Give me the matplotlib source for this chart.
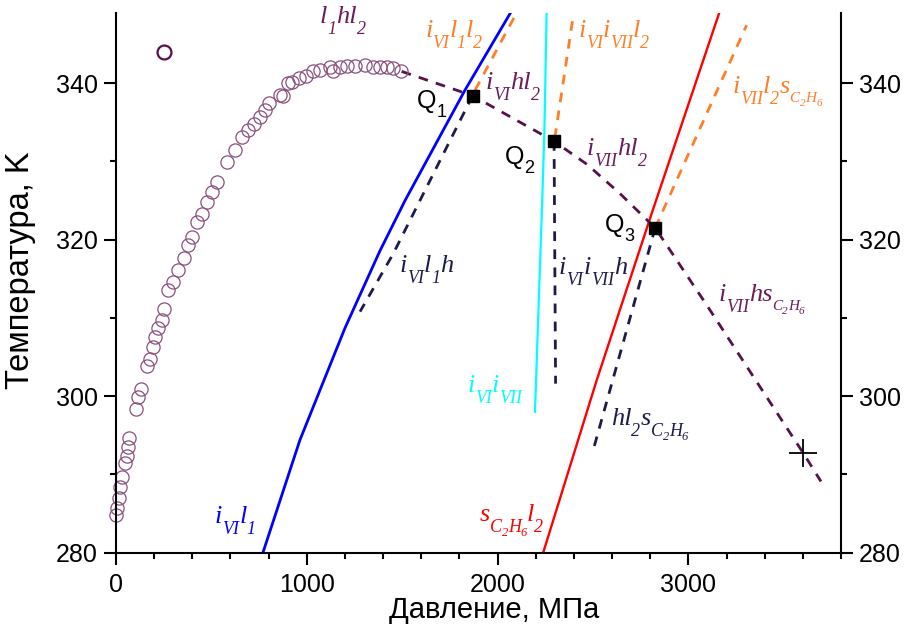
import matplotlib
matplotlib.use('Agg')
import matplotlib.pyplot as plt
from matplotlib.ticker import MultipleLocator
from matplotlib.transforms import IdentityTransform

plt.rcParams['font.family'] = ['Liberation Sans', 'DejaVu Sans']

# ---------------- data (pressure in MPa, temperature in K) ----------------
exp_P = [0, 5, 16, 21, 30, 47, 56, 64, 70, 105, 113, 129, 161, 178, 192, 204, 222,
         239, 253, 274, 300, 327, 356, 379, 397, 426, 449, 475, 501, 531, 580, 624,
         659, 694, 723, 755, 781, 802, 860, 873, 903, 921, 961, 996, 1034, 1069,
         1122, 1139, 1174, 1209, 1253, 1305, 1349, 1384, 1419, 1453, 1494]
exp_T = [284.8, 285.7, 287.0, 288.4, 289.7, 291.4, 292.3, 293.5, 294.7, 298.3, 299.9,
         300.9, 303.8, 304.7, 306.3, 307.6, 308.7, 309.7, 311.2, 313.6, 314.6, 316.1,
         317.7, 319.3, 320.4, 322.3, 323.3, 324.8, 326.1, 327.4, 329.9, 331.4, 333.1,
         334.0, 334.8, 335.7, 336.6, 337.4, 338.5, 338.4, 340.0, 340.2, 340.6, 340.9,
         341.6, 341.7, 342.1, 341.6, 342.1, 342.2, 342.2, 342.3, 342.1, 342.1, 342.1,
         341.9, 341.5]
single_P = [253]
single_T = [344.0]

# solid lines
iVI_l1_P = [770, 964, 1200, 1384, 1515, 1829, 2068]
iVI_l1_T = [280, 294.4, 308.7, 318.6, 325, 339.1, 349]
sC2H6_l2_P = [2239, 2519, 2807, 3162]
sC2H6_l2_T = [280, 302, 323.3, 349]
iVI_iVII_P = [2196, 2234, 2245, 2257]
iVI_iVII_T = [298.0, 325.0, 333.5, 349]

# dashed three-phase lines
hl2_P = [1497, 1869, 2294, 2470, 2641, 2826, 3100, 3410, 3603, 3695]
hl2_T = [341.5, 338.4, 332.6, 329.6, 325.9, 321.5, 311.5, 299.9, 292.7, 289.1]
iVI_l1_h_P = [1869, 1453, 1279]
iVI_l1_h_T = [338.4, 318.2, 310.8]
iVI_iVII_h_P = [2296, 2304]
iVI_iVII_h_T = [332.6, 301.6]
hl2_s_P = [2826, 2501]
hl2_s_T = [321.5, 293.1]
iVI_l1_l2_P = [1882, 2100]
iVI_l1_l2_T = [339.1, 349]
iVI_iVII_l2_P = [2300, 2397]
iVI_iVII_l2_T = [333.0, 348.7]
iVII_l2_s_P = [2826, 3305]
iVII_l2_s_T = [321.5, 347.4]

# quadruple points Q1..Q3 and end point
Q_P = [1869, 2294, 2826]
Q_T = [338.4, 332.6, 321.5]
Q_names = ['1', '2', '3']
end_P = [3603]
end_T = [292.7]

x_ticks = [0, 1000, 2000, 3000]
y_ticks = [280, 300, 320, 340]

# ---------------- colours ----------------
c_purple = '#58104a'
c_purple_txt = '#6a1c5b'
c_circ = '#8a4f7e'
c_orange = '#ff7f27'
c_navy = '#1c1c4c'
c_blue = '#0000ff'
c_red = '#ff0000'
c_cyan = '#00ffff'

fig = plt.figure(figsize=(9.06, 6.3), dpi=100)
ax = fig.add_axes([116 / 906, 1 - 552.7 / 630, 725 / 906, 540 / 630])
ax.set_xlim(0, 3800)
ax.set_ylim(280, 349)

ax.plot(iVI_l1_P, iVI_l1_T, color=c_blue, lw=2.0)
ax.plot(sC2H6_l2_P, sC2H6_l2_T, color=c_red, lw=1.7)
ax.plot(iVI_iVII_P, iVI_iVII_T, color=c_cyan, lw=1.6)

dash = (3.5, 3.0)
ax.plot(iVI_l1_h_P, iVI_l1_h_T, color=c_navy, lw=2.0, dashes=dash)
ax.plot(iVI_iVII_h_P, iVI_iVII_h_T, color=c_navy, lw=2.0, dashes=dash)
ax.plot(hl2_s_P, hl2_s_T, color=c_navy, lw=2.0, dashes=dash)
ax.plot(iVI_l1_l2_P, iVI_l1_l2_T, color=c_orange, lw=2.0, dashes=dash)
ax.plot(iVI_iVII_l2_P, iVI_iVII_l2_T, color=c_orange, lw=2.0, dashes=dash)
ax.plot(iVII_l2_s_P, iVII_l2_s_T, color=c_orange, lw=2.0, dashes=dash)
ax.plot(hl2_P, hl2_T, color=c_purple, lw=2.0, dashes=dash)

ax.plot(exp_P, exp_T, linestyle='none', marker='o', ms=9.5, mfc='none',
        mec=c_circ, mew=0.9, clip_on=False)
ax.plot(single_P, single_T, linestyle='none', marker='o', ms=10, mfc='none',
        mec=c_purple, mew=1.6)
ax.plot(Q_P, Q_T, linestyle='none', marker='s', ms=9, color='black', zorder=5)
ax.plot(end_P, end_T, linestyle='none', marker='+', ms=20, mew=1.3, color='black', zorder=5)

# ---------------- rich labels with real subscripts ----------------
renderer = fig.canvas.get_renderer()
LEVELS = {0: (19, 0), 1: (13, 11), 2: (9, 15), 3: (11, 9), 4: (8, 13)}


def rich(x, y, pieces, color, family='Liberation Serif', style='italic', levels=LEVELS):
    bx, by = ax.transData.transform((x, y))
    for txt, lvl in pieces:
        size, drop = levels[lvl]
        t = fig.text(bx, by - drop, txt, transform=IdentityTransform(), fontsize=size,
                     color=color, family=family, style=style, ha='left', va='baseline')
        bx += t.get_window_extent(renderer).width


C2H6 = [('C', 3), ('2', 4), ('H', 3), ('6', 4)]
rich(1069, 347.7, [('l', 0), ('1', 1), ('hl', 0), ('2', 1)], c_purple_txt)
rich(1620, 345.9, [('i', 0), ('VI', 1), ('l', 0), ('1', 1), ('l', 0), ('2', 1)], c_orange)
rich(1939, 339.3, [('i', 0), ('VI', 1), ('hl', 0), ('2', 1)], c_purple_txt)
rich(2423, 345.9, [('i', 0), ('VI', 1), ('i', 0), ('VII', 1), ('l', 0), ('2', 1)], c_orange)
rich(2467, 330.8, [('i', 0), ('VII', 1), ('hl', 0), ('2', 1)], c_purple_txt)
rich(3232, 338.7, [('i', 0), ('VII', 1), ('l', 0), ('2', 1), ('s', 0)] + C2H6, c_orange)
rich(1485, 315.9, [('i', 0), ('VI', 1), ('l', 0), ('1', 1), ('h', 0)], c_navy)
rich(2322, 315.6, [('i', 0), ('VI', 1), ('i', 0), ('VII', 1), ('h', 0)], c_navy)
rich(3157, 312.1, [('i', 0), ('VII', 1), ('hs', 0)] + C2H6, c_purple_txt)
rich(1841, 300.5, [('i', 0), ('VI', 1), ('i', 0), ('VII', 1)], c_cyan)
rich(2593, 296.3, [('hl', 0), ('2', 1), ('s', 0), ('C', 1), ('2', 2), ('H', 1), ('6', 2)], c_navy)
rich(1904, 284.0, [('s', 0), ('C', 1), ('2', 2), ('H', 1), ('6', 2), ('l', 0), ('2', 1)], c_red)
rich(519, 283.8, [('i', 0), ('VI', 1), ('l', 0), ('1', 1)], c_blue)

q_pos = [(1576, 336.8), (2039, 329.7), (2563, 321.0)]
for (x, y), n in zip(q_pos, Q_names):
    rich(x, y, [('Q', 0), (n, 1)], 'black', family='Liberation Sans', style='normal',
         levels={0: (18, 0), 1: (13, 9)})

# ---------------- axes styling ----------------
ax.spines['top'].set_visible(False)
for s in ['left', 'right', 'bottom']:
    ax.spines[s].set_linewidth(1.5)
ax.set_xticks(x_ticks)
ax.set_yticks(y_ticks)
ax.xaxis.set_minor_locator(MultipleLocator(200))
ax.yaxis.set_minor_locator(MultipleLocator(10))
ax.tick_params(which='both', direction='out', width=1.5, labelsize=18,
               right=True, labelright=True, top=False)
ax.tick_params(which='major', length=8.5, pad=4.5)
ax.tick_params(which='minor', length=4.5)
ax.tick_params(axis='x', which='major', pad=6)

fig.text(494 / 906, 1 - 618 / 630, 'Давление, МПа', fontsize=21, ha='center',
         va='baseline')
fig.text(21 / 906, 1 - 270 / 630, 'Температура, K', fontsize=23.5, ha='center',
         va='center', rotation=90)

fig.savefig('out.png', dpi=100)
